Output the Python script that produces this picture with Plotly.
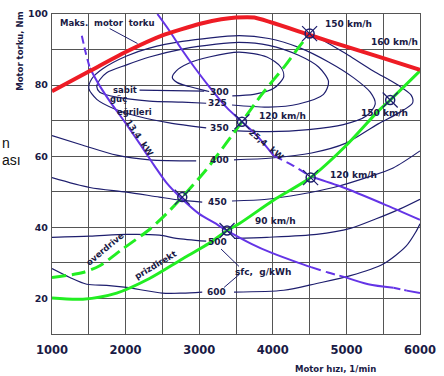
import plotly.graph_objects as go

# ---------------- axis ticks ----------------
rpm_label_step = 1000
rpm_grid_step = 500
nm_label_step = 20
nm_grid_step = 10

# ---------------- max torque (red) ----------------
max_rpm = [1000, 1500, 2000, 2500, 3000, 3300, 3500, 3750, 4500, 5000, 5500, 6000]
max_nm = [78.3, 83.8, 89.3, 94.0, 97.2, 98.5, 99.0, 99.0, 94.1, 90.8, 87.6, 84.3]

# ---------------- road-load lines (green) ----------------
direct_rpm = [1000, 1419, 1878, 2324, 2770, 3135, 3378, 3541, 4014, 4514, 4986, 5432, 5595, 6000]
direct_nm = [20.1, 19.8, 21.5, 25.6, 31.1, 35.5, 39.1, 41.0, 47.7, 54.0, 62.8, 72.7, 75.8, 84.0]
over_rpm = [1000, 1419, 1649, 1959, 2324, 2554, 2770, 3095, 3365, 3581, 3851, 4176, 4351, 4500]
over_nm = [25.9, 27.3, 29.2, 33.9, 39.4, 43.8, 48.5, 56.2, 63.6, 69.7, 77.4, 85.7, 90.6, 94.5]

# operating points (speed marks)
op_rpm = [2770, 3581, 4500, 3378, 4514, 5595]
op_nm = [48.5, 69.7, 94.5, 39.1, 54.0, 75.8]

# ---------------- constant power lines (purple) ----------------
p13_top_rpm = [1405, 1459, 1514]
p13_top_nm = [93.9, 89.0, 84.8]
p13_a_rpm = [1514, 1622, 1784, 1986, 2189, 2392, 2554, 2757, 3000, 3203, 3378, 3716, 3986, 4351, 4520]
p13_a_nm = [84.8, 80.7, 75.5, 69.7, 63.6, 57.3, 52.6, 48.2, 43.8, 41.3, 39.1, 35.3, 32.8, 30.0, 28.8]
p13_b_rpm = [4520, 4750, 4980]
p13_b_nm = [28.8, 27.3, 26.0]
p13_c_rpm = [4980, 5297, 5640]
p13_c_nm = [26.0, 24.0, 23.0]
p13_d_rpm = [5640, 5820]
p13_d_nm = [23.0, 22.2]
p13_e_rpm = [5820, 6000]
p13_e_nm = [22.2, 21.5]

p25_a_rpm = [2432, 2595, 2770, 2932, 3135, 3378, 3581, 3784, 4014]
p25_a_nm = [100.0, 95.3, 89.8, 85.1, 79.6, 73.6, 69.7, 65.8, 60.1]
p25_b_rpm = [4014, 4257, 4514]
p25_b_nm = [60.1, 57.6, 54.3]
p25_c_rpm = [4514, 4959, 5500, 6000]
p25_c_nm = [54.3, 51.2, 46.6, 42.1]

# ---------------- sfc contours, g/kWh ----------------
c300_rpm = [3450, 3743, 4014, 4149, 4108, 3919, 3541, 3135, 2865, 2689, 2635, 2703, 2865, 3068, 3135]
c300_nm = [77.0, 77.4, 79.1, 82.4, 85.1, 87.9, 89.3, 87.9, 86.2, 84.0, 82.1, 80.7, 79.6, 78.5, 78.2]
lead_rpm = [2189, 3068]
lead_nm = [78.6, 78.3]

c325_rpm = [3095, 2770, 2324, 1878, 1649, 1608, 1649, 1743, 2014, 2324, 2770, 3230, 3541, 3946,
            4351, 4622, 4757, 4689, 4351, 3946, 3446]
c325_nm = [74.9, 75.2, 75.5, 76.6, 78.0, 79.6, 81.5, 83.5, 85.7, 87.9, 90.1, 91.5, 92.0, 91.2,
           88.4, 85.1, 81.0, 77.4, 74.7, 73.8, 74.4]

c350_rpm = [3095, 2595, 2189, 1851, 1608, 1500, 1541, 1689, 2014, 2324, 2770, 3541, 3946, 4351,
            4757, 5095, 5324, 5392, 5270, 4959, 4486, 3946, 3446]
c350_nm = [68.0, 69.4, 71.1, 73.3, 76.0, 79.1, 81.8, 84.6, 88.2, 90.4, 92.3, 93.9, 93.1, 90.6,
           86.5, 82.1, 78.0, 74.7, 71.3, 68.9, 67.5, 66.9, 67.2]

c400_l_rpm = [1000, 1419, 1878, 2324, 2959]
c400_l_nm = [65.8, 63.1, 60.3, 59.0, 58.7]
c400_r_rpm = [3473, 3986, 4527, 4986, 5432, 5730, 5900, 5880, 5700, 5365, 5027, 4757, 4595]
c400_r_nm = [59.0, 59.5, 60.9, 63.6, 69.1, 72.4, 75.0, 77.2, 80.0, 84.0, 88.4, 91.7, 93.7]

c450_l_rpm = [1000, 1514, 2014, 2459, 2730, 3041]
c450_l_nm = [54.0, 51.2, 49.9, 48.5, 47.7, 47.1]
c450_r_rpm = [3446, 3919, 4378, 4824, 5270, 5635, 6000]
c450_r_nm = [47.4, 47.9, 49.3, 51.2, 54.0, 56.7, 61.5]

c500_l_rpm = [1000, 1514, 2014, 2459, 2689, 3095]
c500_l_nm = [37.2, 37.5, 38.0, 37.8, 36.9, 36.1]
c500_r_rpm = [3473, 3919, 4595, 5054, 5405, 5730, 6000]
c500_r_nm = [36.9, 37.2, 38.0, 39.7, 42.4, 45.2, 47.9]

c600_l_rpm = [1000, 1243, 1473, 1743, 2014, 2500, 2770, 3041]
c600_l_nm = [28.4, 25.9, 24.0, 23.7, 23.1, 21.5, 21.5, 21.8]
c600_r_rpm = [3473, 4149, 4595, 5054, 5500, 5811, 5946, 6000]
c600_r_nm = [21.8, 22.3, 24.2, 26.4, 29.7, 34.7, 38.8, 41.0]

sfc_labels = ["300", "325", "350", "400", "450", "500", "600"]
sfc_label_rpm = [3270, 3255, 3270, 3270, 3250, 3250, 3240]
sfc_label_nm = [78.2, 74.9, 68.0, 59.0, 47.1, 35.9, 21.8]

sfc_lead1_rpm = [3297, 3541]
sfc_lead1_nm = [33.9, 29.0]
sfc_lead2_rpm = [3541, 3338]
sfc_lead2_nm = [26.7, 23.1]
maks_lead_rpm = [1784, 2162]
maks_lead_nm = [95.9, 91.7]

speed_labels = ["150 km/h", "160 km/h", "120 km/h", "150 km/h", "120 km/h", "90 km/h"]
speed_label_rpm = [5027, 5649, 4135, 5514, 5095, 4041]
speed_label_nm = [97.2, 92.0, 71.3, 72.2, 54.8, 41.9]

# ---------------- styling ----------------
RED = "#ee1c25"
GREEN = "#22ee22"
PURPLE = "#6434e6"
NAVY = "#1e1e6e"
INK = "#1a1a45"
GRID = "#555555"
FONT = "DejaVu Sans"

fig = go.Figure()


def line(x, y, color, width, dash=None, shape="spline", smoothing=0.8):
    fig.add_trace(go.Scatter(
        x=x, y=y, mode="lines",
        line=dict(color=color, width=width, dash=dash, shape=shape,
                  smoothing=smoothing if shape == "spline" else None),
        hoverinfo="skip", showlegend=False))


# sfc contours
for xs, ys in [(c300_rpm, c300_nm), (lead_rpm, lead_nm), (c325_rpm, c325_nm), (c350_rpm, c350_nm),
               (c400_l_rpm, c400_l_nm), (c400_r_rpm, c400_r_nm),
               (c450_l_rpm, c450_l_nm), (c450_r_rpm, c450_r_nm),
               (c500_l_rpm, c500_l_nm), (c500_r_rpm, c500_r_nm),
               (c600_l_rpm, c600_l_nm), (c600_r_rpm, c600_r_nm)]:
    line(xs, ys, NAVY, 1.2)

for xs, ys in [(sfc_lead1_rpm, sfc_lead1_nm), (sfc_lead2_rpm, sfc_lead2_nm), (maks_lead_rpm, maks_lead_nm)]:
    line(xs, ys, NAVY, 1.0, shape="linear")

# constant power lines
line(p13_top_rpm, p13_top_nm, PURPLE, 2, dash="8px,4px")
line(p13_a_rpm, p13_a_nm, PURPLE, 2)
line(p13_b_rpm, p13_b_nm, PURPLE, 2, dash="10px,5px")
line(p13_c_rpm, p13_c_nm, PURPLE, 2)
line(p13_d_rpm, p13_d_nm, PURPLE, 2, dash="7px,4px")
line(p13_e_rpm, p13_e_nm, PURPLE, 2)
line(p25_a_rpm, p25_a_nm, PURPLE, 2)
line(p25_b_rpm, p25_b_nm, PURPLE, 2, dash="9px,5px")
line(p25_c_rpm, p25_c_nm, PURPLE, 2)

# road load lines
line(over_rpm, over_nm, GREEN, 3, dash="14px,6px")
line(direct_rpm, direct_nm, GREEN, 3)

# max torque
line(max_rpm, max_nm, RED, 4, smoothing=0.5)

# operating point marks
fig.add_trace(go.Scatter(x=op_rpm, y=op_nm, mode="markers",
                         marker=dict(symbol="circle-open", size=9, color=NAVY, line=dict(width=1.5)),
                         hoverinfo="skip", showlegend=False))
fig.add_trace(go.Scatter(x=op_rpm, y=op_nm, mode="markers",
                         marker=dict(symbol="x-thin-open", size=15, color=NAVY, line=dict(width=1.2)),
                         hoverinfo="skip", showlegend=False))

ann = []


def txt(x, y, s, size=9, angle=0, color=INK, xanchor="center", xref="x", yref="y", family=FONT,
        weight="bold"):
    ann.append(dict(x=x, y=y, text=s, showarrow=False, textangle=angle, xref=xref, yref=yref,
                    xanchor=xanchor, yanchor="middle",
                    font=dict(family=family, size=size, color=color, weight=weight)))


for s, xv, yv in zip(sfc_labels, sfc_label_rpm, sfc_label_nm):
    txt(xv, yv, s, size=9)
for s, xv, yv in zip(speed_labels, speed_label_rpm, speed_label_nm):
    txt(xv, yv, s, size=9)

txt(1757, 97.5, "Maks.  motor  torku", size=8.5)
txt(1990, 78.5, "sabit", size=8.5)
txt(1905, 76.0, "güç", size=8.5)
txt(2120, 72.4, "eğrileri", size=8.5)
txt(3865, 27.3, "sfc,  g/kWh", size=9)
txt(2189, 65.0, "13,4  kW", size=8.5, angle=56)
txt(3919, 63.1, "25,4  kW", size=8.5, angle=40)
txt(1716, 33.9, "overdrive", size=8.5, angle=-40)
txt(2405, 29.5, "prizdirekt", size=8.5, angle=-31)

# axis titles
txt(-0.087, 0.885, "Motor torku, Nm", size=8.5, angle=-90, xref="paper", yref="paper")
txt(0.77, -0.11, "Motor hızı, 1/min", size=8.5, xref="paper", yref="paper")

# slide text fragments at the left edge
txt(-0.1405, 0.598, "n", size=14, color="#111111", xanchor="left", xref="paper", yref="paper",
    family="Liberation Sans", weight="normal")
txt(-0.1405, 0.545, "ası", size=14, color="#111111", xanchor="left", xref="paper", yref="paper",
    family="Liberation Sans", weight="normal")

grid_style = dict(showgrid=True, gridcolor=GRID, gridwidth=1.4)

fig.update_layout(
    width=444, height=376,
    margin=dict(l=52, r=22, t=8, b=42),
    paper_bgcolor="white", plot_bgcolor="white",
    annotations=ann,
    xaxis=dict(range=[1000, 6000], tickmode="linear", tick0=1000, dtick=rpm_label_step,
               zeroline=False, showline=True, linecolor=GRID, linewidth=1.4, mirror=True,
               ticks="outside", ticklen=5, tickcolor="rgba(0,0,0,0)",
               minor=dict(tickmode="linear", tick0=1000, dtick=rpm_grid_step, **grid_style),
               tickfont=dict(family=FONT, size=11.5, color=INK, weight="bold"),
               **grid_style),
    yaxis=dict(range=[10, 100], tickmode="linear", tick0=20, dtick=nm_label_step,
               zeroline=False, showline=True, linecolor=GRID, linewidth=1.4, mirror=True,
               ticks="outside", ticklen=1, tickcolor="rgba(0,0,0,0)",
               minor=dict(tickmode="linear", tick0=10, dtick=nm_grid_step, **grid_style),
               tickfont=dict(family=FONT, size=9.5, color=INK, weight="bold"),
               **grid_style),
)

fig.write_html("out.html", config={"displayModeBar": False},
               post_script="document.body.style.margin='0';")
